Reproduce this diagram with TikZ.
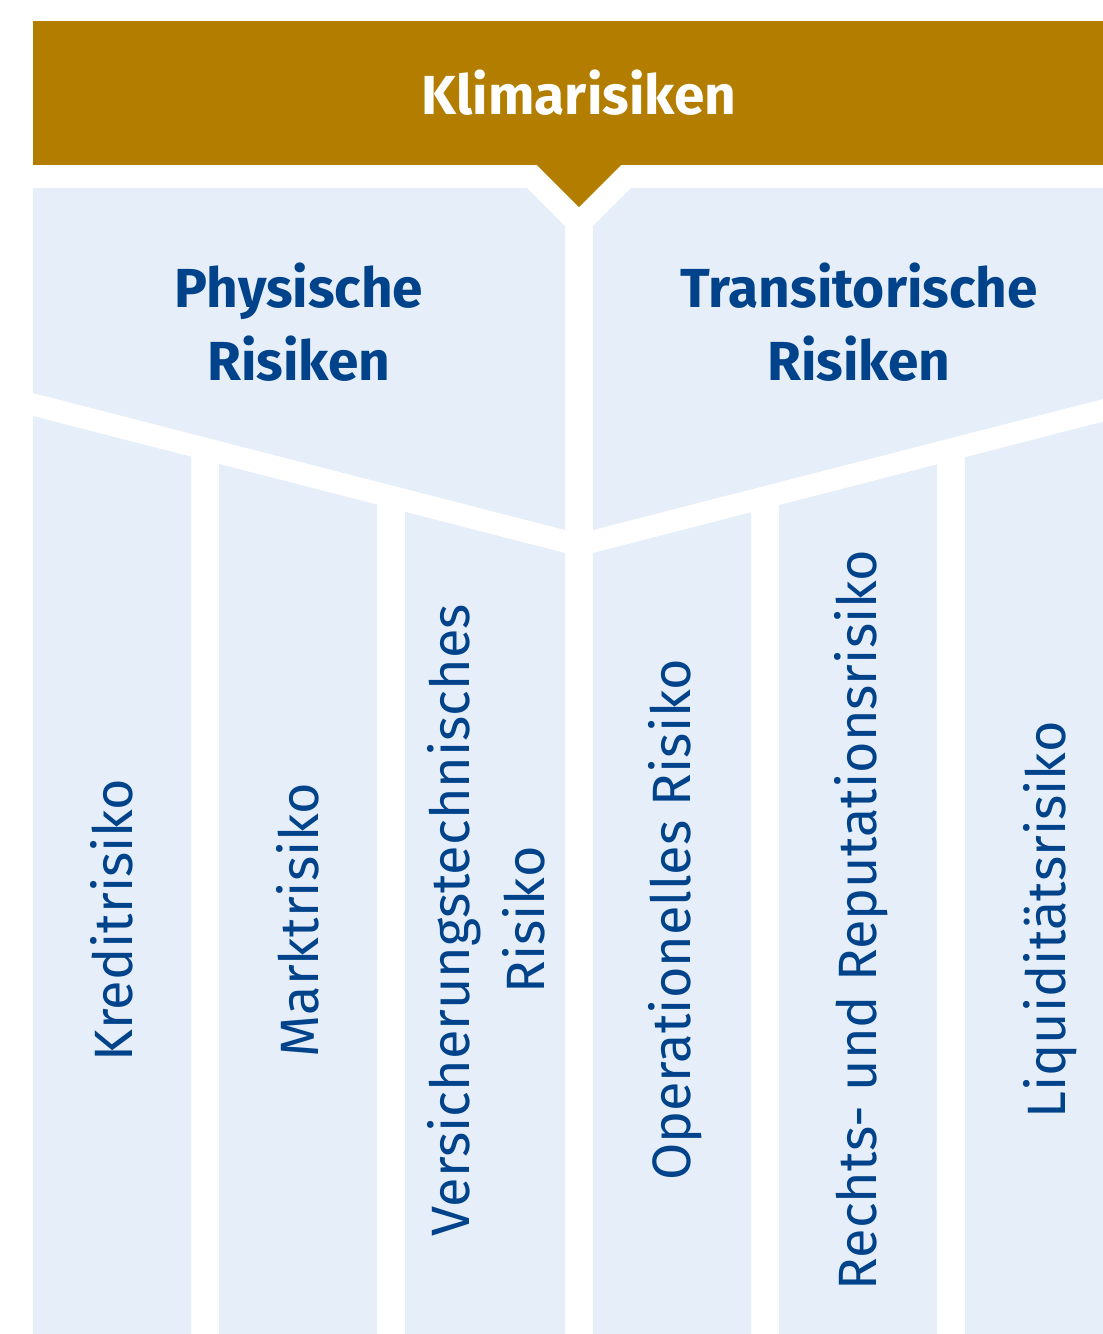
\documentclass[tikz,border=0pt]{standalone}
\usepackage{fontspec}
\setmainfont{Fira Sans}
\definecolor{gold}{HTML}{B37D00}
\definecolor{paleblue}{HTML}{E6EEF9}
\definecolor{darkblue}{HTML}{00438A}

\begin{document}
\begin{tikzpicture}[x=1pt, y=-1pt,
  panel/.style={fill=paleblue},
  headline/.style={text=darkblue, align=center,
    font=\fontsize{55}{73}\selectfont\bfseries},
  risk/.style={text=darkblue, rotate=90, align=center,
    font=\fontsize{54}{75}\selectfont}]
\useasboundingbox (0,0) rectangle (1103,1334);
% top bar with notch
\fill[gold] (33,21) rectangle (1103,165);
\fill[gold] (537,165) -- (579,207) -- (621,165) -- cycle;
\node[text=white, anchor=base, font=\fontsize{55}{60}\selectfont\bfseries]
  (klima) at (579,114) {Klimarisiken};

% upper panels
\fill[panel] (33,188) -- (527,188) -- (565,226) -- (565,530) -- (33,393) -- cycle;
\fill[panel] (1103,188) -- (631,188) -- (593,226) -- (593,530) -- (1103,399) -- cycle;
\node[headline] (physisch) at (299,322) {Physische\\Risiken};
\node[headline] (transit) at (859,322) {Transitorische\\Risiken};

% lower panels, top edges follow the slanted bands
\foreach \l/\r in {33/191, 219/377, 405/565}
  \fill[panel] (\l,{416+0.2575*(\l-33)}) -- (\r,{416+0.2575*(\r-33)})
    -- (\r,1334) -- (\l,1334) -- cycle;
\foreach \l/\r in {593/751, 779/937, 965/1103}
  \fill[panel] (\l,{416+0.2575*(1125-\l)}) -- (\r,{416+0.2575*(1125-\r)})
    -- (\r,1334) -- (\l,1334) -- cycle;

\node[risk] (kredit) at (112,920) {Kreditrisiko};
\node[risk] (markt) at (298,920) {Marktrisiko};
\node[risk] (versich) at (486,920) {Versicherungstechnisches\\Risiko};
\node[risk] (operat) at (675,920) {Operationelles Risiko};
\node[risk] (recht) at (861,920) {Rechts- und Reputationsrisiko};
\node[risk] (liquid) at (1050,920) {Liquiditätsrisiko};
\end{tikzpicture}
\end{document}
